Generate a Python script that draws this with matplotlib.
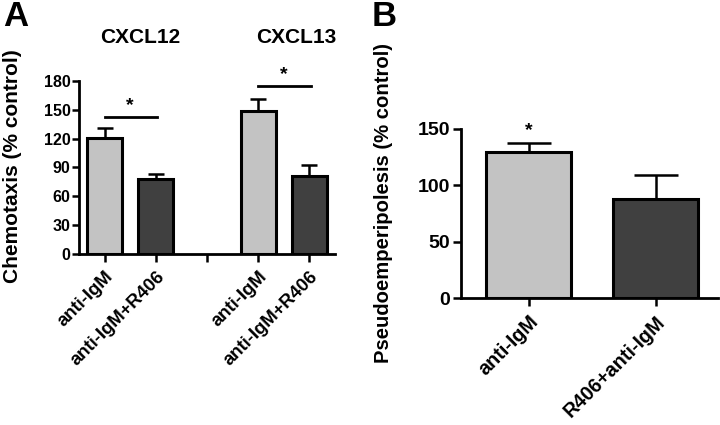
import numpy as np
import matplotlib
matplotlib.use('Agg')
import matplotlib.pyplot as plt

plt.rcParams['font.family'] = ['Liberation Sans', 'DejaVu Sans']
plt.rcParams['font.weight'] = 'bold'
plt.rcParams['axes.labelweight'] = 'bold'

# Panel A - chemotaxis
groups_a = ['CXCL12', 'CXCL13']
labels_a = ['anti-IgM', 'anti-IgM+R406', '', 'anti-IgM', 'anti-IgM+R406']
cxcl12_mean = [121, 78]
cxcl12_err = [10, 5]
cxcl13_mean = [149, 81]
cxcl13_err = [12, 12]
sig_a = [143, 175]

# Panel B - pseudoemperipolesis
labels_b = ['anti-IgM', 'R406+anti-IgM']
pseudo_mean = [130, 88]
pseudo_err = [8, 21]

light = '#c3c3c3'
dark = '#404040'

fig = plt.figure(figsize=(7.2, 4.25), dpi=100)

# ---- A ----
axA = fig.add_axes([0.1097, 0.4024, 0.3556, 0.407])
posA = [0, 1, 3, 4]
meansA = cxcl12_mean + cxcl13_mean
errsA = cxcl12_err + cxcl13_err
colsA = [light, dark, light, dark]
axA.errorbar(posA, meansA, yerr=[np.zeros(4), errsA], fmt='none', ecolor='black',
             elinewidth=1.8, capsize=6, capthick=1.8, zorder=1)
axA.bar(posA, meansA, width=0.68, color=colsA, edgecolor='black', linewidth=2.2, zorder=2)
axA.set_xlim(-0.5, 4.5)
axA.set_ylim(0, 180)
axA.set_yticks(np.arange(0, 181, 30))
axA.set_xticks(range(5))
axA.set_xticklabels(labels_a, rotation=45, ha='right', rotation_mode='anchor', fontsize=13.3)
axA.tick_params(axis='y', labelsize=11.5, width=1.8, length=5, pad=1)
axA.tick_params(axis='x', width=1.8, length=6, pad=4)
for s in ['top', 'right']:
    axA.spines[s].set_visible(False)
for s in ['left', 'bottom']:
    axA.spines[s].set_linewidth(2)
axA.set_ylabel('Chemotaxis (% control)', fontsize=15)
axA.yaxis.set_label_coords(-0.222, 0.51)

# significance bars
for i, y in enumerate(sig_a):
    x0 = posA[2 * i]
    x1 = posA[2 * i + 1]
    axA.plot([x0, x1 + 0.03], [y, y], color='black', lw=2, clip_on=False)
    axA.text((x0 + x1) / 2, y + 3, '*', ha='center', va='bottom', fontsize=14, clip_on=False)

axA.text(0.7, 225, groups_a[0], ha='center', va='center', fontsize=15)
axA.text(3.75, 225, groups_a[1], ha='center', va='center', fontsize=15)
fig.text(0.004, 1.0, 'A', fontsize=25, ha='left', va='top')

# ---- B ----
axB = fig.add_axes([0.6403, 0.2988, 0.3567, 0.3977])
posB = [0, 1]
axB.errorbar(posB, pseudo_mean, yerr=[np.zeros(2), pseudo_err], fmt='none', ecolor='black',
             elinewidth=1.8, capsize=16, capthick=1.8, zorder=1)
axB.bar(posB, pseudo_mean, width=0.67, color=[light, dark], edgecolor='black', linewidth=2.2, zorder=2)
axB.set_xlim(-0.535, 1.49)
axB.set_ylim(0, 150)
axB.set_yticks([0, 50, 100, 150])
axB.set_xticks(posB)
axB.set_xticklabels(labels_b, rotation=45, ha='right', rotation_mode='anchor', fontsize=14.2)
axB.tick_params(axis='y', labelsize=14, width=1.8, length=6, pad=2)
axB.tick_params(axis='x', width=1.8, length=6, pad=4)
for s in ['top', 'right']:
    axB.spines[s].set_visible(False)
for s in ['left', 'bottom']:
    axB.spines[s].set_linewidth(2)
axB.set_ylabel('Pseudoemperipolesis (% control)', fontsize=14.6)
axB.yaxis.set_label_coords(-0.265, 0.56)
axB.text(0, pseudo_mean[0] + pseudo_err[0] + 3, '*', ha='center', va='bottom', fontsize=14, clip_on=False)
fig.text(0.516, 1.0, 'B', fontsize=25, ha='left', va='top')

fig.savefig('out.png', dpi=100)
